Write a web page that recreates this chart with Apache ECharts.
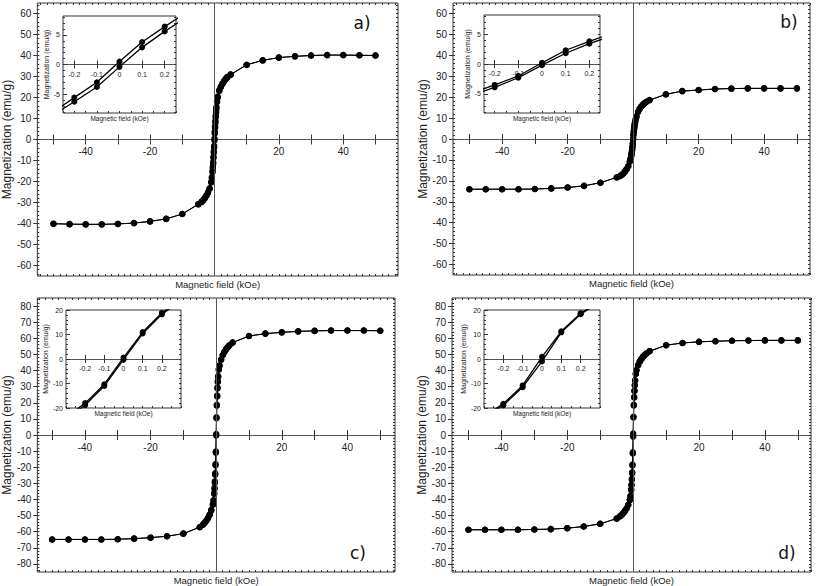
<!DOCTYPE html>
<html><head><meta charset="utf-8">
<script src="https://cdn.jsdelivr.net/npm/echarts@6/dist/echarts.min.js"></script>
<style>html,body{margin:0;padding:0;background:#fff}#c{width:817px;height:586px}</style>
</head><body><div id="c"></div>
<script>
// ---- data ----
const fieldDown = [50,45,40,35,30,25,20,15,10,5,4,3.5,3,2.5,2,1.5,1,0.8,0.6,0.5,0.4,0.3,0.2,0.1,0,-0.1,-0.2,-0.3,-0.4,-0.5,-0.6,-0.8,-1,-1.5,-2,-2.5,-3,-3.5,-4,-5,-10,-15,-20,-25,-30,-35,-40,-45,-50];
const fieldUp = [-50,-45,-40,-35,-30,-25,-20,-15,-10,-5,-4,-3.5,-3,-2.5,-2,-1.5,-1,-0.8,-0.6,-0.5,-0.4,-0.3,-0.2,-0.1,0,0.1,0.2,0.3,0.4,0.5,0.6,0.8,1,1.5,2,2.5,3,3.5,4,5,10,15,20,25,30,35,40,45,50];

const aDown = [40.0,40.1,40.2,40.2,40.0,39.6,39.0,37.7,35.6,31.0,29.8,29.0,28.0,26.8,25.3,23.5,20.4,18.3,15.5,13.6,11.4,8.9,6.4,3.8,0.5,-3.0,-5.6,-8.2,-10.7,-13.0,-15.0,-17.9,-20.1,-23.2,-25.1,-26.6,-27.8,-28.8,-29.6,-30.7,-35.5,-37.8,-39.0,-39.8,-40.2,-40.4,-40.4,-40.3,-40.1];
const aUp = [-40.1,-40.3,-40.4,-40.4,-40.2,-39.8,-39.0,-37.8,-35.5,-30.9,-29.8,-29.0,-28.0,-26.8,-25.3,-23.5,-20.5,-18.4,-15.6,-13.8,-11.5,-8.7,-6.3,-3.8,-0.4,2.9,5.6,8.1,10.6,12.9,14.9,17.8,20.0,23.1,25.0,26.5,27.7,28.7,29.5,30.8,35.5,37.7,39.0,39.6,40.0,40.2,40.2,40.1,40.0];

const bDown = [24.2,24.2,24.2,24.2,24.1,23.9,23.4,22.9,21.4,18.6,17.8,17.2,16.5,15.6,14.5,13.0,10.8,9.6,8.2,7.3,6.3,5.2,3.8,2.3,0.2,-2.0,-3.5,-4.9,-6.1,-7.1,-8.0,-9.4,-10.6,-12.9,-14.4,-15.5,-16.4,-17.1,-17.7,-18.3,-20.9,-22.4,-23.2,-23.6,-23.9,-24.0,-24.0,-24.0,-24.0];
const bUp = [-24.0,-24.0,-24.0,-24.0,-23.9,-23.6,-23.2,-22.4,-20.9,-18.4,-17.8,-17.2,-16.5,-15.6,-14.5,-13.0,-10.8,-9.6,-8.2,-7.3,-6.4,-5.3,-3.9,-2.3,-0.2,1.8,3.4,4.8,6.0,7.0,7.9,9.4,10.6,12.9,14.4,15.5,16.4,17.1,17.7,18.5,21.3,22.9,23.4,23.9,24.1,24.2,24.2,24.2,24.2];

const cDown = [64.7,64.8,64.8,64.8,64.6,64.3,63.7,62.9,61.4,57.4,55.6,54.5,53.2,51.6,49.6,46.8,43.2,40.8,36.5,33.4,29.6,24.5,18.8,11.0,0.6,-10.3,-18.0,-23.8,-28.8,-32.8,-36.0,-40.4,-42.9,-46.6,-49.4,-51.5,-53.1,-54.4,-55.5,-57.1,-61.2,-62.8,-63.7,-64.3,-64.7,-64.8,-64.8,-64.8,-64.8];
const cUp = [-64.8,-64.8,-64.8,-64.8,-64.7,-64.3,-63.7,-62.8,-61.2,-57.2,-55.6,-54.5,-53.2,-51.6,-49.6,-46.8,-43.2,-40.8,-36.6,-33.5,-29.7,-24.6,-18.8,-11.0,-0.3,10.4,18.2,23.9,28.9,32.9,36.1,40.5,43.0,46.7,49.5,51.5,53.1,54.4,55.5,57.3,61.4,62.9,63.7,64.3,64.6,64.8,64.8,64.8,64.7];

const dDown = [58.7,58.7,58.7,58.6,58.5,58.2,57.8,57.1,55.7,52.0,50.6,49.7,48.6,47.2,45.6,43.4,40.3,38.0,34.0,31.0,27.5,23.5,18.7,11.3,0.9,-10.8,-18.3,-23.2,-27.2,-30.7,-33.7,-37.8,-40.2,-43.3,-45.5,-47.1,-48.4,-49.5,-50.4,-51.8,-55.1,-56.8,-57.8,-58.4,-58.6,-58.8,-58.8,-58.8,-58.8];
const dUp = [-58.8,-58.8,-58.8,-58.8,-58.6,-58.4,-57.8,-56.8,-55.1,-51.9,-50.5,-49.6,-48.5,-47.2,-45.6,-43.4,-40.4,-38.1,-34.2,-31.2,-27.8,-23.8,-18.9,-11.5,-1.0,10.9,18.3,23.3,27.3,30.8,33.8,37.9,40.2,43.3,45.5,47.1,48.5,49.6,50.5,52.0,55.7,57.1,57.8,58.2,58.5,58.6,58.7,58.7,58.7];

const mainXTicks = [-50,-40,-30,-20,-10,0,10,20,30,40,50];
const mainXLabels = [-40,-20,20,40];
const mainYLabelsAB = [-60,-50,-40,-30,-20,-10,0,10,20,30,40,50,60];
const mainYLabelsCD = [-80,-70,-60,-50,-40,-30,-20,-10,0,10,20,30,40,50,60,70,80];
const insetXLabels = [-0.2,-0.1,0,0.1,0.2];
const insetYLabelsAB = [-5,0,5];
const insetYLabelsCD = [-20,-10,0,10,20];
const panelLabels = ['a)','b)','c)','d)'];
const xTitle = 'Magnetic field (kOe)';
const yTitle = 'Magnetization (emu/g)';

// ---- helpers ----
const FF = 'Liberation Sans, Arial, sans-serif';
function steps(a, b, s) { const r = []; for (let v = a; v <= b + 1e-9; v += s) r.push(Math.round(v * 1000) / 1000); return r; }

const option = { animation: false, backgroundColor: '#fff', grid: [], xAxis: [], yAxis: [], series: [], graphic: [] };

function panel(p) {
  option.grid.push(Object.assign({ show: true, borderColor: '#333', borderWidth: 1, backgroundColor: '#fff' }, p.grid));
  const gi = option.grid.length - 1;
  const yi = option.yAxis.length, xi = option.xAxis.length;
  const tickLine = { color: '#333', width: 1 };
  const h = p.grid.height;
  const zeroFromBottom = h * (0 - p.yMin) / (p.yMax - p.yMin);
  const zeroFromTop = h - zeroFromBottom;
  // left y axis with labels + name
  option.yAxis.push({ gridIndex: gi, type: 'value', min: p.yMin, max: p.yMax, position: 'left',
    axisLine: { show: false, onZero: false },
    axisTick: { show: true, inside: p.yTickInside, length: p.yTickLen, customValues: p.yLabels, lineStyle: tickLine },
    axisLabel: { customValues: p.yLabels, fontSize: p.fs, color: '#222', margin: p.yMargin, fontFamily: FF },
    splitLine: { show: false },
    name: yTitle, nameLocation: 'middle', nameRotate: 90, nameGap: p.yNameGap,
    nameTextStyle: { fontSize: p.yNameFs, color: '#222', fontFamily: FF } });
  // right frame minor ticks
  option.yAxis.push({ gridIndex: gi, type: 'value', min: p.yMin, max: p.yMax, position: 'right',
    axisLine: { show: false, onZero: false },
    axisTick: { show: true, inside: true, length: 2, customValues: p.minorY, lineStyle: tickLine },
    axisLabel: { show: false }, splitLine: { show: false } });
  // left frame minor ticks (inside)
  option.yAxis.push({ gridIndex: gi, type: 'value', min: p.yMin, max: p.yMax, position: 'left',
    axisLine: { show: false, onZero: false },
    axisTick: { show: true, inside: true, length: 2, customValues: p.minorY, lineStyle: tickLine },
    axisLabel: { show: false }, splitLine: { show: false } });
  // x axis moved to the zero line, downward ticks and labels
  option.xAxis.push({ gridIndex: gi, type: 'value', min: p.xMin, max: p.xMax, position: 'bottom', offset: -zeroFromBottom,
    axisLine: { show: true, onZero: false, lineStyle: { color: '#555', width: 1 } },
    axisTick: { show: true, length: p.xTickLen, customValues: p.xTicks, lineStyle: tickLine },
    axisLabel: { customValues: p.xLabels, fontSize: p.fs, color: '#222', margin: p.xMargin, fontFamily: FF },
    splitLine: { show: false } });
  // x axis at the zero line, upward ticks
  option.xAxis.push({ gridIndex: gi, type: 'value', min: p.xMin, max: p.xMax, position: 'top', offset: -zeroFromTop,
    axisLine: { show: false, onZero: false },
    axisTick: { show: true, length: p.xTickLen, customValues: p.xTicks, lineStyle: tickLine },
    axisLabel: { show: false }, splitLine: { show: false } });
  // bottom frame: minor ticks + name
  option.xAxis.push({ gridIndex: gi, type: 'value', min: p.xMin, max: p.xMax, position: 'bottom',
    axisLine: { show: false, onZero: false },
    axisTick: { show: true, inside: true, length: 2, customValues: p.minorX, lineStyle: tickLine },
    axisLabel: { show: false }, splitLine: { show: false },
    name: xTitle, nameLocation: 'middle', nameGap: p.xNameGap,
    nameTextStyle: { fontSize: p.xNameFs, color: '#222', fontFamily: FF, verticalAlign: 'top' } });
  // top frame minor ticks
  if (p.topMinor) option.xAxis.push({ gridIndex: gi, type: 'value', min: p.xMin, max: p.xMax, position: 'top',
    axisLine: { show: false, onZero: false },
    axisTick: { show: true, inside: true, length: 2, customValues: p.minorX, lineStyle: tickLine },
    axisLabel: { show: false }, splitLine: { show: false } });

  [[fieldDown, p.down], [fieldUp, p.up]].forEach(([f, m], k) => {
    const s = { type: 'line', xAxisIndex: xi, yAxisIndex: yi, data: f.map((hh, i) => [hh, m[i]]),
      symbol: 'circle', symbolSize: p.sym, showSymbol: true, clip: true, silent: true, z: 3,
      lineStyle: { color: '#000', width: p.lw }, itemStyle: { color: '#000' }, emphasis: { disabled: true } };
    if (p.vline && k === 0) s.markLine = { silent: true, symbol: ['none', 'none'], label: { show: false },
      lineStyle: { color: '#555', width: 1, type: 'solid' }, data: [{ xAxis: 0 }], animation: false };
    option.series.push(s);
  });
}

const mainCommon = { fs: 10, yTickInside: false, yTickLen: 4, yMargin: 6, xTickLen: 5, xMargin: 7,
  xTicks: mainXTicks, xLabels: mainXLabels, minorX: steps(-54, 56, 2), xNameGap: 3, xNameFs: 9.5,
  yNameFs: 12, sym: 6.5, lw: 1, vline: true, topMinor: true };
const insetCommon = { fs: 7, yTickInside: true, yTickLen: 4, yMargin: 3, xTickLen: 4, xMargin: 6,
  xTicks: insetXLabels, xLabels: insetXLabels, xNameGap: 2, xNameFs: 6.5,
  yNameFs: 7, sym: 6, lw: 1.3, vline: false, topMinor: false };

// main panels
panel(Object.assign({}, mainCommon, { grid: { left: 31, top: 3, width: 367, height: 273 }, xMin: -55, xMax: 57, yMin: -65, yMax: 65,
  yLabels: mainYLabelsAB, minorY: steps(-64, 64, 2), yNameGap: 19, down: aDown, up: aUp }));
panel(Object.assign({}, mainCommon, { grid: { left: 453, top: 3, width: 357, height: 272 }, xMin: -55, xMax: 54, yMin: -65, yMax: 65,
  yLabels: mainYLabelsAB, minorY: steps(-64, 64, 2), yNameGap: 21, down: bDown, up: bUp }));
panel(Object.assign({}, mainCommon, { grid: { left: 35, top: 298, width: 360, height: 274 }, xMin: -54.5, xMax: 54.5, yMin: -85, yMax: 85,
  yLabels: mainYLabelsCD, minorY: steps(-84, 84, 2), yNameGap: 19, down: cDown, up: cUp }));
panel(Object.assign({}, mainCommon, { grid: { left: 452, top: 298, width: 359, height: 274 }, xMin: -55, xMax: 54, yMin: -85, yMax: 85,
  yLabels: mainYLabelsCD, minorY: steps(-84, 84, 2), yNameGap: 19, down: dDown, up: dUp }));

// insets
panel(Object.assign({}, insetCommon, { grid: { left: 63, top: 16, width: 113, height: 97 }, xMin: -0.25, xMax: 0.25, yMin: -8.2, yMax: 8.2,
  yLabels: insetYLabelsAB, minorY: steps(-8, 8, 1), minorX: steps(-0.25, 0.25, 0.05), yNameGap: 13, down: aDown, up: aUp }));
panel(Object.assign({}, insetCommon, { grid: { left: 484, top: 15, width: 116, height: 98 }, xMin: -0.245, xMax: 0.245, yMin: -8.2, yMax: 8.2,
  yLabels: insetYLabelsAB, minorY: steps(-8, 8, 1), minorX: steps(-0.2, 0.2, 0.05), yNameGap: 12, down: bDown, up: bUp }));
panel(Object.assign({}, insetCommon, { grid: { left: 66, top: 310, width: 115, height: 98 }, xMin: -0.3, xMax: 0.3, yMin: -20, yMax: 20,
  yLabels: insetYLabelsCD, minorY: steps(-18, 18, 2), minorX: steps(-0.3, 0.3, 0.05), yNameGap: 15, down: cDown, up: cUp }));
panel(Object.assign({}, insetCommon, { grid: { left: 484, top: 310, width: 116, height: 98 }, xMin: -0.3, xMax: 0.3, yMin: -20, yMax: 20,
  yLabels: insetYLabelsCD, minorY: steps(-18, 18, 2), minorX: steps(-0.3, 0.3, 0.05), yNameGap: 15, down: dDown, up: dUp }));

// panel letters
const letterPos = [[362, 23], [789, 22], [358, 553], [787, 553]];
panelLabels.forEach((t, i) => option.graphic.push({ type: 'text', x: letterPos[i][0], y: letterPos[i][1], z: 10,
  style: { text: t, font: '17px "DejaVu Sans", sans-serif', fill: '#111', textAlign: 'center', textVerticalAlign: 'middle' } }));

const chart = echarts.init(document.getElementById('c'), null, { renderer: 'svg', width: 817, height: 586 });
chart.setOption(option);
</script>
</body></html>
